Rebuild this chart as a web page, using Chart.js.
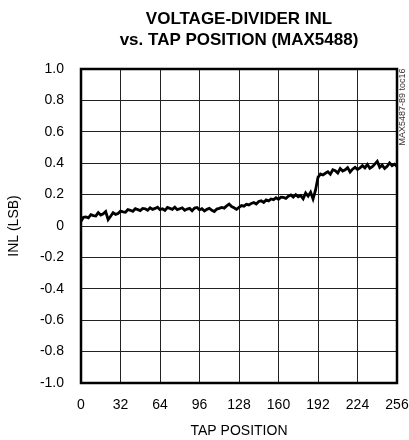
<!DOCTYPE html>
<html><head><meta charset="utf-8">
<script src="https://cdn.jsdelivr.net/npm/chart.js@4.4.1/dist/chart.umd.min.js"></script>
<style>html,body{margin:0;padding:0;background:#fff;}</style>
</head><body><canvas id="c" width="409" height="440"></canvas>
<script>
const titleLines = ["VOLTAGE-DIVIDER INL", "vs. TAP POSITION (MAX5488)"];
const xTitle = "TAP POSITION";
const yTitle = "INL (LSB)";
const sideNote = "MAX5487-89 toc16";
const xTicks = [0, 32, 64, 96, 128, 160, 192, 224, 256];
const yTicks = [-1.0, -0.8, -0.6, -0.4, -0.2, 0, 0.2, 0.4, 0.6, 0.8, 1.0];
const taps = [];
for (let t = 0; t <= 256; t += 2) taps.push(t);
const inl = [
0.03,0.055,0.058,0.052,0.072,0.066,0.064,0.085,0.07,0.078,0.092,0.04,0.062,0.085,0.074,0.08,
0.095,0.09,0.088,0.105,0.1,0.094,0.11,0.104,0.098,0.112,0.11,0.1,0.116,0.106,0.112,0.12,
0.104,0.11,0.1,0.118,0.112,0.106,0.12,0.104,0.11,0.116,0.1,0.108,0.112,0.097,0.114,0.118,
0.103,0.11,0.096,0.106,0.113,0.1,0.092,0.108,0.112,0.118,0.114,0.128,0.14,0.124,0.116,0.106,
0.118,0.13,0.126,0.138,0.134,0.144,0.15,0.14,0.156,0.16,0.15,0.166,0.16,0.172,0.168,0.18,
0.17,0.184,0.182,0.176,0.19,0.198,0.184,0.2,0.186,0.194,0.174,0.21,0.19,0.215,0.172,0.228,
0.31,0.332,0.325,0.336,0.346,0.33,0.358,0.352,0.338,0.366,0.35,0.358,0.372,0.344,0.362,0.374,
0.36,0.37,0.384,0.37,0.392,0.368,0.378,0.394,0.412,0.374,0.388,0.366,0.38,0.402,0.384,0.394,0.38
];
const FONT = "'Liberation Sans', Arial, sans-serif";

const extras = {
  id: 'extras',
  afterDraw(chart) {
    const c = chart.ctx, ca = chart.chartArea;
    c.save();
    c.strokeStyle = '#000'; c.lineWidth = 2.5;
    c.strokeRect(ca.left, ca.top, ca.right - ca.left, ca.bottom - ca.top);
    c.fillStyle = '#000';
    c.textAlign = 'center'; c.textBaseline = 'middle';
    c.font = "bold 17px " + FONT;
    c.fillText(titleLines[0], (ca.left + ca.right) / 2, 19);
    c.fillText(titleLines[1], (ca.left + ca.right) / 2, 40);
    c.translate(403, 107); c.rotate(-Math.PI / 2);
    c.font = "9px " + FONT; c.fillStyle = '#333';
    c.fillText(sideNote, 0, 0);
    c.restore();
  }
};

new Chart(document.getElementById('c'), {
  type: 'line',
  data: { labels: taps, datasets: [{ data: taps.map((t, i) => ({ x: t, y: inl[i] })), borderColor: '#000', borderWidth: 2.8, pointRadius: 0, tension: 0, fill: false }] },
  options: {
    responsive: false, animation: false,
    layout: { padding: { top: 69, right: 0, left: 0, bottom: 0 } },
    plugins: { legend: { display: false }, tooltip: { enabled: false }, title: { display: false } },
    scales: {
      x: {
        type: 'linear', min: 0, max: 256,
        afterBuildTicks(s) { s.ticks = xTicks.map(v => ({ value: v })); },
        afterFit(s) { s.height = 57; s.paddingRight = 12; },
        grid: { color: '#222', lineWidth: 1, drawTicks: false },
        border: { display: false },
        ticks: { color: '#000', padding: 14, maxRotation: 0, autoSkip: false, font: { family: FONT, size: 14 } },
        title: { display: true, text: xTitle, color: '#000', padding: 0, font: { family: FONT, size: 14 } }
      },
      y: {
        type: 'linear', min: -1, max: 1,
        afterBuildTicks(s) { s.ticks = yTicks.map(v => ({ value: v })); },
        afterFit(s) { s.width = 81; },
        grid: { color: '#222', lineWidth: 1, drawTicks: false },
        border: { display: false },
        ticks: { color: '#000', padding: 17, autoSkip: false, font: { family: FONT, size: 14 }, callback: v => Math.abs(v) < 1e-9 ? '0' : v.toFixed(1) },
        title: { display: true, text: yTitle, color: '#000', padding: 6, font: { family: FONT, size: 14 } }
      }
    }
  },
  plugins: [extras]
});
</script></body></html>
